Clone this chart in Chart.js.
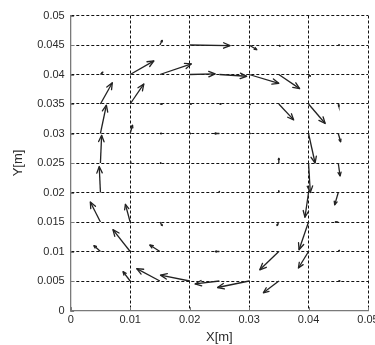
<!DOCTYPE html>
<html><head><meta charset="utf-8">
<script src="https://cdn.jsdelivr.net/npm/chart.js@4"></script>
<style>html,body{margin:0;padding:0;background:#fff;overflow:hidden}#wrap{width:385px;height:345px}</style>
</head><body><div id="wrap"><canvas id="c" width="385" height="345"></canvas></div>
<script>
// Tick values and labels
const xTicks = [0, 0.01, 0.02, 0.03, 0.04, 0.05];
const xTickLabels = ['0', '0.01', '0.02', '0.03', '0.04', '0.05'];
const yTicks = [0, 0.005, 0.01, 0.015, 0.02, 0.025, 0.03, 0.035, 0.04, 0.045, 0.05];
const yTickLabels = ['0', '0.005', '0.01', '0.015', '0.02', '0.025', '0.03', '0.035', '0.04', '0.045', '0.05'];

// Quiver arrows: tail position (arrowX, arrowY) and vector components (arrowU, arrowV), in metres
const arrowX = [
  0.015, 0.02, 0.03, 0.035, 0.045,
  0.005, 0.01, 0.015, 0.02, 0.025, 0.03, 0.035, 0.04,
  0.005, 0.01, 0.015, 0.02, 0.025, 0.03, 0.035, 0.04, 0.045,
  0.005, 0.01, 0.015, 0.02, 0.025, 0.03, 0.04, 0.045,
  0.005, 0.01, 0.015, 0.035, 0.04, 0.045,
  0.005, 0.01, 0.025, 0.035, 0.04, 0.045,
  0.005, 0.01, 0.015, 0.035, 0.04, 0.045,
  0.005, 0.01, 0.015, 0.025, 0.035, 0.04, 0.045,
  0.01, 0.015, 0.02, 0.025, 0.03, 0.035, 0.045
];
const arrowY = [
  0.045, 0.045, 0.045, 0.045, 0.045,
  0.04, 0.04, 0.04, 0.04, 0.04, 0.04, 0.04, 0.04,
  0.035, 0.035, 0.035, 0.035, 0.035, 0.035, 0.035, 0.035, 0.035,
  0.03, 0.03, 0.03, 0.03, 0.03, 0.03, 0.03, 0.03,
  0.025, 0.025, 0.025, 0.025, 0.025, 0.025,
  0.02, 0.02, 0.02, 0.02, 0.02, 0.02,
  0.015, 0.015, 0.015, 0.015, 0.015, 0.015,
  0.01, 0.01, 0.01, 0.01, 0.01, 0.01, 0.01,
  0.005, 0.005, 0.005, 0.005, 0.005, 0.005, 0.005
];
const arrowU = [
  0.0004, 0.0068, 0.0013, 0.0002, 0.0002,
  0.0004, 0.0040, 0.0053, 0.0043, 0.0046, 0.0050, 0.0035, 0.0003,
  0.0020, 0.0023, 0.0004, 0.0003, 0.0003, 0.0002, 0.0025, 0.0028, 0.0001,
  0.0010, 0.0004, 0.0003, 0.0002, -0.0008, 0.0002, 0.0011, 0.0004,
  0.0002, 0.0001, 0.0002, 0.0000, 0.0003, 0.0003,
  -0.0002, 0.0001, 0.0000, 0.0000, -0.0006, -0.0006,
  -0.0017, -0.0008, 0.0004, -0.0003, -0.0016, -0.0005,
  -0.0011, -0.0029, -0.0017, -0.0007, -0.0032, -0.0017, 0.0002,
  -0.0012, -0.0039, -0.0049, -0.0041, -0.0053, -0.0026, 0.0003
];
const arrowV = [
  0.0008, -0.0001, -0.0008, -0.0002, 0.0000,
  0.0004, 0.0023, 0.0018, 0.0001, -0.0003, -0.0015, -0.0024, -0.0003,
  0.0036, 0.0034, 0.0000, 0.0000, 0.0000, -0.0001, -0.0027, -0.0033, -0.0004,
  0.0048, 0.0014, 0.0000, 0.0000, 0.0000, 0.0000, -0.0050, -0.0014,
  0.0047, 0.0002, 0.0000, 0.0008, -0.0050, -0.0022,
  0.0044, 0.0001, 0.0002, 0.0003, -0.0042, -0.0021,
  0.0034, 0.0030, -0.0006, -0.0006, -0.0047, 0.0000,
  0.0010, 0.0037, 0.0011, 0.0000, -0.0031, -0.0028, 0.0002,
  0.0016, 0.0021, 0.0010, -0.0005, -0.0011, -0.0020, 0.0000
];

const arrowColor = '#222222';
const gridColor = '#111111';
const axisColor = '#7a7a7a';
const textColor = '#2a2a2a';

const datasets = arrowX.map((x0, i) => ({
  data: [{x: x0, y: arrowY[i]}, {x: x0 + arrowU[i], y: arrowY[i] + arrowV[i]}],
  showLine: true,
  borderColor: arrowColor,
  borderWidth: 1.3,
  pointRadius: 0,
  pointHoverRadius: 0,
  fill: false,
  tension: 0
}));

const quiverHeads = {
  id: 'quiverHeads',
  afterDatasetsDraw(chart) {
    const {ctx, scales: {x, y}} = chart;
    ctx.save();
    ctx.strokeStyle = arrowColor;
    ctx.lineWidth = 1.3;
    ctx.lineCap = 'round';
    ctx.lineJoin = 'round';
    for (let i = 0; i < arrowX.length; i++) {
      const x0 = x.getPixelForValue(arrowX[i]), y0 = y.getPixelForValue(arrowY[i]);
      const x1 = x.getPixelForValue(arrowX[i] + arrowU[i]), y1 = y.getPixelForValue(arrowY[i] + arrowV[i]);
      const dx = x1 - x0, dy = y1 - y0, len = Math.hypot(dx, dy);
      if (len < 1) continue;
      const a = Math.atan2(dy, dx), h = Math.min(len * 0.3, 7), s = 0.4;
      ctx.beginPath();
      ctx.moveTo(x1 - h * Math.cos(a - s), y1 - h * Math.sin(a - s));
      ctx.lineTo(x1, y1);
      ctx.lineTo(x1 - h * Math.cos(a + s), y1 - h * Math.sin(a + s));
      ctx.stroke();
    }
    // inward tick marks on the left and bottom axes
    ctx.strokeStyle = axisColor;
    ctx.lineWidth = 1;
    const L = x.left, B = y.bottom;
    yTicks.forEach(v => {
      const py = Math.round(y.getPixelForValue(v)) + 0.5;
      ctx.beginPath(); ctx.moveTo(L, py); ctx.lineTo(L + 3, py); ctx.stroke();
    });
    xTicks.forEach(v => {
      const px = Math.round(x.getPixelForValue(v)) + 0.5;
      ctx.beginPath(); ctx.moveTo(px, B); ctx.lineTo(px, B - 3); ctx.stroke();
    });
    ctx.restore();
  }
};

const gridColorFn = c => (c.tick && c.tick.value === 0) ? 'rgba(0,0,0,0)' : gridColor;

new Chart(document.getElementById('c'), {
  type: 'scatter',
  data: {datasets},
  plugins: [quiverHeads],
  options: {
    responsive: false,
    animation: false,
    events: [],
    layout: {padding: {top: 15.5, right: 17, bottom: 0, left: 0}},
    plugins: {legend: {display: false}, tooltip: {enabled: false}},
    scales: {
      x: {
        type: 'linear', min: 0, max: 0.05,
        afterBuildTicks: s => { s.ticks = xTicks.map(v => ({value: v})); },
        afterFit: s => { s.height = 34.5; },
        ticks: {
          callback: (v, i) => xTickLabels[i],
          font: {family: 'Liberation Sans', size: 11},
          color: textColor, padding: 3, maxRotation: 0, autoSkip: false
        },
        grid: {color: gridColorFn, lineWidth: 1, drawTicks: false},
        border: {display: true, color: axisColor, width: 1.3, dash: [3, 2]},
        title: {display: true, text: 'X[m]', color: textColor,
          font: {family: 'Liberation Sans', size: 13}, padding: {top: 0, bottom: 0}}
      },
      y: {
        type: 'linear', min: 0, max: 0.05,
        afterBuildTicks: s => { s.ticks = yTicks.map(v => ({value: v})); },
        afterFit: s => { s.width = 70.7; },
        ticks: {
          callback: (v, i) => yTickLabels[i],
          font: {family: 'Liberation Sans', size: 11},
          color: textColor, padding: 6, autoSkip: false
        },
        grid: {color: gridColorFn, lineWidth: 1, drawTicks: false},
        border: {display: true, color: axisColor, width: 1.3, dash: [3, 2]},
        title: {display: true, text: 'Y[m]', color: textColor,
          font: {family: 'Liberation Sans', size: 13}, padding: {top: 11, bottom: 0}}
      }
    }
  }
});
</script>
</body></html>
